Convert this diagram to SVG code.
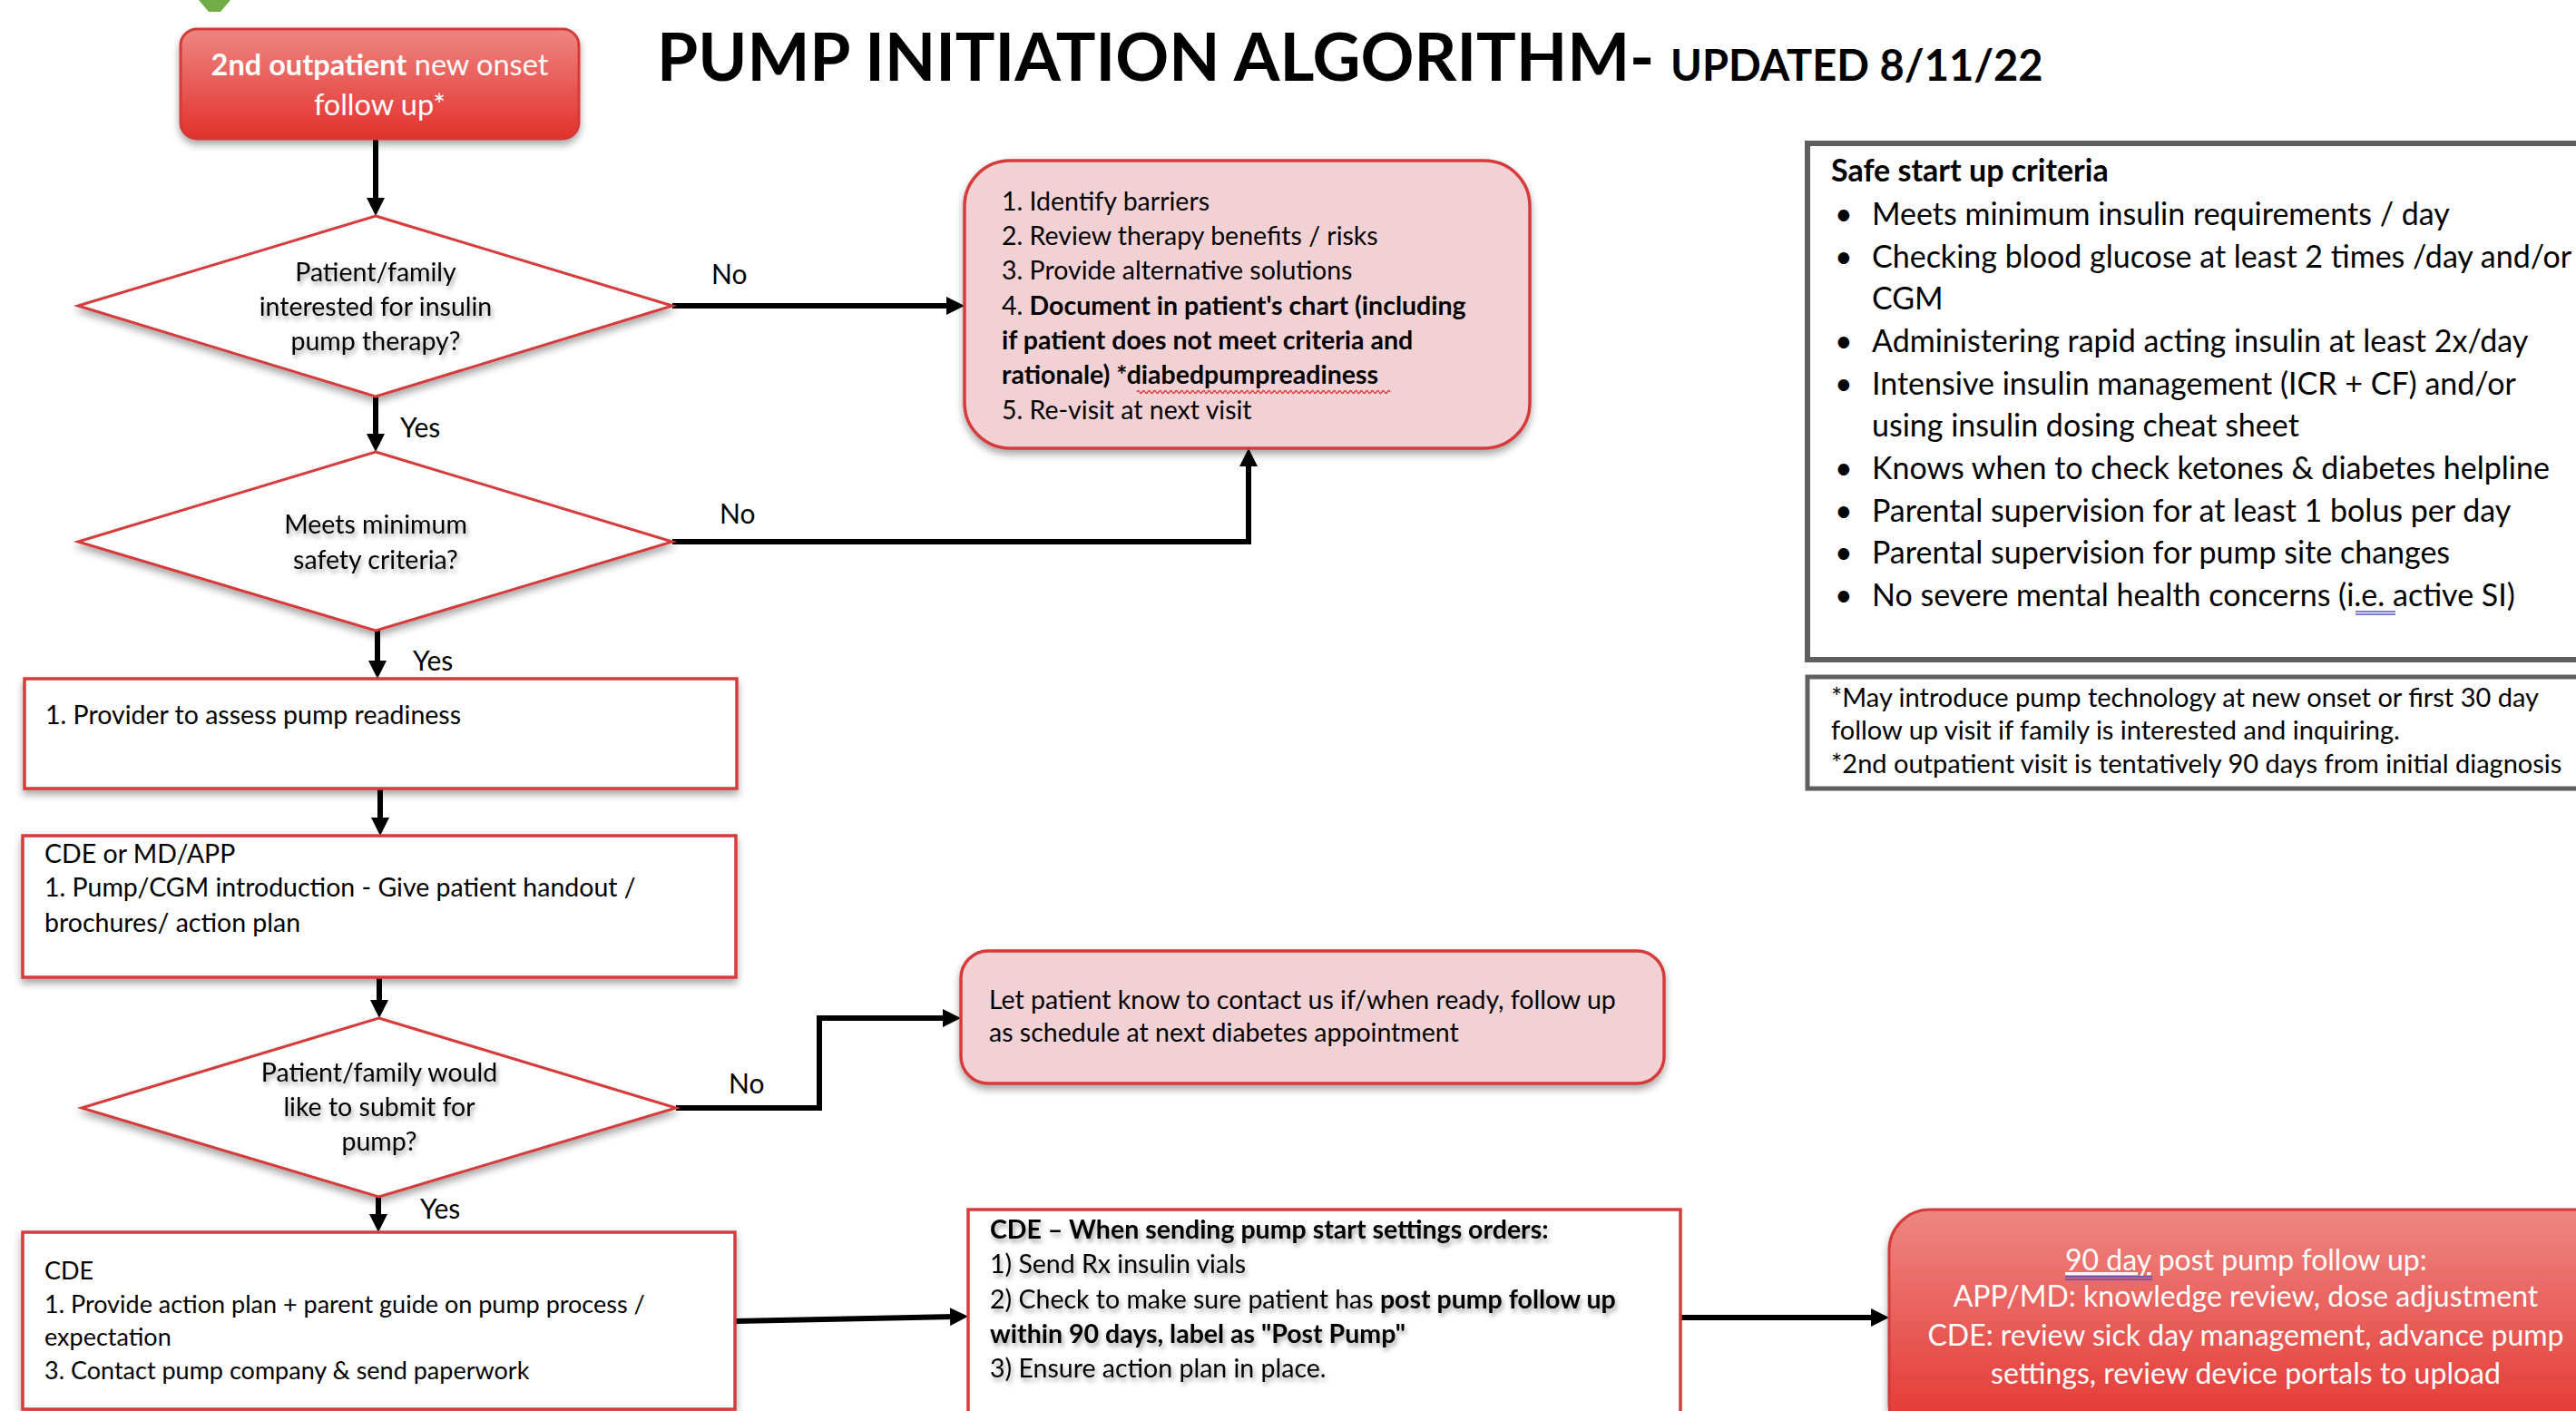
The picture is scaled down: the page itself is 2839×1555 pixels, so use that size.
<svg xmlns="http://www.w3.org/2000/svg" width="2839" height="1555" viewBox="0 0 2839 1555">
<defs>
<style>
text{font-family:Lato,"Liberation Sans",sans-serif;fill:#000}
.b{font-weight:bold}
.n{font-size:28.5px}
.s{font-size:27px}
.d{font-size:28.5px;text-anchor:middle;filter:url(#ts)}
.lbl{font-size:30px}
.w{fill:#fff;font-size:32px}
.panel{font-size:34px}
.foot{font-size:29px}
.redbox{fill:#fff;stroke:#D63B3B;stroke-width:3.5}
.pink{fill:#F2D1D5;stroke:#D63B3B;stroke-width:3.5}
.dia{fill:#fff;stroke:#D63B3B;stroke-width:3}
.grad{fill:url(#rg);stroke:#D43A38;stroke-width:3}
.gray{fill:#fff;stroke:#5F5F5F}
.con{fill:none;stroke:#000;stroke-width:6;stroke-linejoin:miter;marker-end:url(#ah)}
.blu{stroke:#4F52C8;stroke-width:1.3}
</style>
<linearGradient id="rg" x1="0" y1="0" x2="0" y2="1">
<stop offset="0" stop-color="#EE8682"/>
<stop offset="1" stop-color="#E3312C"/>
</linearGradient>
<filter id="sh" x="-10%" y="-10%" width="120%" height="130%">
<feDropShadow dx="0" dy="5" stdDeviation="4" flood-color="#000" flood-opacity="0.35"/>
</filter>
<filter id="ts" x="-10%" y="-30%" width="120%" height="170%">
<feDropShadow dx="2" dy="4" stdDeviation="2.5" flood-color="#000" flood-opacity="0.35"/>
</filter>
<marker id="ah" markerUnits="userSpaceOnUse" viewBox="0 0 20 20" markerWidth="20" markerHeight="20" refX="6" refY="10" orient="auto">
<path d="M0,0 L20,10 L0,20 z" fill="#000"/>
</marker>
</defs>
<rect width="2839" height="1555" fill="#fff"/>

<polygon points="219,0 254,0 243,13 230,13" fill="#70AD47"/>

<g id="title">
<text class="b" x="724" y="89" style="font-size:73px">PUMP INITIATION ALGORITHM- <tspan style="font-size:47px">UPDATED 8/11/22</tspan></text>
</g>

<g id="connectors">
<path class="con" d="M414,153 L414,224"/>
<path class="con" d="M414,437 L414,484"/>
<path class="con" d="M741,337 L1049,337"/>
<path class="con" d="M741,597 L1376,597 L1376,508"/>
<path class="con" d="M416,695 L416,734"/>
<path class="con" d="M419,869 L419,907"/>
<path class="con" d="M418,1077 L418,1108"/>
<path class="con" d="M745,1221 L903,1221 L903,1122 L1045,1122"/>
<path class="con" d="M417,1319 L417,1344"/>
<path class="con" d="M810,1456 L1053,1451"/>
<path class="con" d="M1852,1452 L2068,1452"/>
<text class="lbl" x="784" y="313">No</text>
<text class="lbl" x="441" y="482">Yes</text>
<text class="lbl" x="793" y="577">No</text>
<text class="lbl" x="455" y="739">Yes</text>
<text class="lbl" x="803" y="1205">No</text>
<text class="lbl" x="463" y="1343">Yes</text>
</g>

<g id="start">
<rect class="grad" x="199" y="32" width="439" height="121" rx="18" filter="url(#sh)"/>
<text class="w" x="418.5" y="83" text-anchor="middle" style="font-size:32.5px"><tspan class="b w" style="font-size:32.5px">2nd outpatient</tspan> new onset</text>
<text class="w" x="418.5" y="127" text-anchor="middle" style="font-size:32.5px">follow up*</text>
</g>

<g id="d1">
<polygon class="dia" points="414,238 741,337 414,437 86,337" filter="url(#sh)"/>
<text class="d" x="414" y="310">Patient/family</text>
<text class="d" x="414" y="348">interested for insulin</text>
<text class="d" x="414" y="386">pump therapy?</text>
</g>

<g id="d2">
<polygon class="dia" points="414,498 741,597 414,695 86,597" filter="url(#sh)"/>
<text class="d" x="414" y="588">Meets minimum</text>
<text class="d" x="414" y="627">safety criteria?</text>
</g>

<g id="box1">
<rect class="pink" x="1063" y="177" width="623" height="317" rx="50" filter="url(#sh)"/>
<text class="n" x="1104" y="232">1. Identify barriers</text>
<text class="n" x="1104" y="270">2. Review therapy benefits / risks</text>
<text class="n" x="1104" y="308">3. Provide alternative solutions</text>
<text class="n" x="1104" y="347">4. <tspan class="b">Document in patient's chart (including</tspan></text>
<text class="n b" x="1104" y="385">if patient does not meet criteria and</text>
<text class="n b" x="1104" y="423">rationale) *diabedpumpreadiness</text>
<path d="M1253,432 q1.5,-3 3,0 t3,0 t3,0 t3,0 t3,0 t3,0 t3,0 t3,0 t3,0 t3,0 t3,0 t3,0 t3,0 t3,0 t3,0 t3,0 t3,0 t3,0 t3,0 t3,0 t3,0 t3,0 t3,0 t3,0 t3,0 t3,0 t3,0 t3,0 t3,0 t3,0 t3,0 t3,0 t3,0 t3,0 t3,0 t3,0 t3,0 t3,0 t3,0 t3,0 t3,0 t3,0 t3,0 t3,0 t3,0 t3,0 t3,0 t3,0 t3,0 t3,0 t3,0 t3,0 t3,0 t3,0 t3,0 t3,0 t3,0 t3,0 t3,0 t3,0 t3,0 t3,0 t3,0 t3,0 t3,0 t3,0 t3,0 t3,0 t3,0 t3,0 t3,0 t3,0 t3,0 t3,0 t3,0 t3,0 t3,0 t3,0 t3,0 t3,0 t3,0 t3,0 t3,0 t3,0 t3,0 t3,0 t3,0 t3,0 t3,0 t3,0 t3,0 t3,0 t3,0" fill="none" stroke="#E03030" stroke-width="1.3"/>
<text class="n" x="1104" y="462">5. Re-visit at next visit</text>
</g>

<g id="box2">
<rect class="redbox" x="27" y="748" width="785" height="121" filter="url(#sh)"/>
<text class="n" x="50" y="798">1. Provider to assess pump readiness</text>
</g>

<g id="box3">
<rect class="redbox" x="25" y="921" width="786" height="156" filter="url(#sh)"/>
<text class="n" x="49" y="951">CDE or MD/APP</text>
<text class="n" x="49" y="988">1. Pump/CGM introduction - Give patient handout /</text>
<text class="n" x="49" y="1027">brochures/ action plan</text>
</g>

<g id="d3">
<polygon class="dia" points="417.5,1122 745,1221 417.5,1319 90,1221" filter="url(#sh)"/>
<text class="d" x="418" y="1192">Patient/family would</text>
<text class="d" x="418" y="1230">like to submit for</text>
<text class="d" x="418" y="1268">pump?</text>
</g>

<g id="box4">
<rect class="pink" x="1059" y="1048" width="775" height="146" rx="30" filter="url(#sh)"/>
<text class="n" x="1090" y="1112">Let patient know to contact us if/when ready, follow up</text>
<text class="n" x="1090" y="1148">as schedule at next diabetes appointment</text>
</g>

<g id="box5">
<rect class="redbox" x="25" y="1358" width="785" height="195" filter="url(#sh)"/>
<text class="s" x="49" y="1410">CDE</text>
<text class="s" x="49" y="1447">1. Provide action plan + parent guide on pump process /</text>
<text class="s" x="49" y="1483">expectation</text>
<text class="s" x="49" y="1520">3. Contact pump company &amp; send paperwork</text>
</g>

<g id="box6">
<rect class="redbox" x="1067" y="1333" width="785" height="240"/>
<g filter="url(#ts)">
<text class="n b" x="1091" y="1365">CDE – When sending pump start settings orders:</text>
<text class="n" x="1091" y="1403">1) Send Rx insulin vials</text>
<text class="n" x="1091" y="1442">2) Check to make sure patient has <tspan class="b">post pump follow up</tspan></text>
<text class="n b" x="1091" y="1480">within 90 days, label as "Post Pump"</text>
<text class="n" x="1091" y="1518">3) Ensure action plan in place.</text>
</g>
</g>

<g id="box7">
<rect class="grad" x="2082" y="1333" width="820" height="260" rx="45" filter="url(#sh)"/>
<text class="w" x="2276" y="1400"><tspan class="w" text-decoration="underline">90 day</tspan> post pump follow up:</text>
<line class="blu" x1="2276" y1="1407" x2="2372" y2="1407"/>
<line class="blu" x1="2276" y1="1410" x2="2372" y2="1410"/>
<text class="w" x="2475" y="1440" text-anchor="middle">APP/MD: knowledge review, dose adjustment</text>
<text class="w" x="2475" y="1483" text-anchor="middle">CDE: review sick day management, advance pump</text>
<text class="w" x="2475" y="1525" text-anchor="middle">settings, review device portals to upload</text>
</g>

<g id="criteria">
<rect class="gray" x="1992" y="158" width="900" height="569" stroke-width="6"/>
<text class="panel b" x="2018" y="200">Safe start up criteria</text>
<text class="panel" x="2022" y="248">•</text><text class="panel" x="2063" y="248">Meets minimum insulin requirements / day</text>
<text class="panel" x="2022" y="294.5">•</text><text class="panel" x="2063" y="294.5">Checking blood glucose at least 2 times /day and/or</text>
<text class="panel" x="2063" y="341">CGM</text>
<text class="panel" x="2022" y="388">•</text><text class="panel" x="2063" y="388">Administering rapid acting insulin at least 2x/day</text>
<text class="panel" x="2022" y="434.5">•</text><text class="panel" x="2063" y="434.5">Intensive insulin management (ICR + CF) and/or</text>
<text class="panel" x="2063" y="481">using insulin dosing cheat sheet</text>
<text class="panel" x="2022" y="528">•</text><text class="panel" x="2063" y="528">Knows when to check ketones &amp; diabetes helpline</text>
<text class="panel" x="2022" y="574.5">•</text><text class="panel" x="2063" y="574.5">Parental supervision for at least 1 bolus per day</text>
<text class="panel" x="2022" y="621">•</text><text class="panel" x="2063" y="621">Parental supervision for pump site changes</text>
<text class="panel" x="2022" y="668">•</text><text class="panel" x="2063" y="668">No severe mental health concerns (i.e. active SI)</text>
<line class="blu" x1="2596" y1="674" x2="2640" y2="674"/>
<line class="blu" x1="2596" y1="677" x2="2640" y2="677"/>
</g>

<g id="footnote">
<rect class="gray" x="1992" y="746" width="900" height="123" stroke-width="5"/>
<text class="foot" x="2018" y="779">*May introduce pump technology at new onset or first 30 day</text>
<text class="foot" x="2018" y="815">follow up visit if family is interested and inquiring.</text>
<text class="foot" x="2018" y="852">*2nd outpatient visit is tentatively 90 days from initial diagnosis</text>
</g>
</svg>
